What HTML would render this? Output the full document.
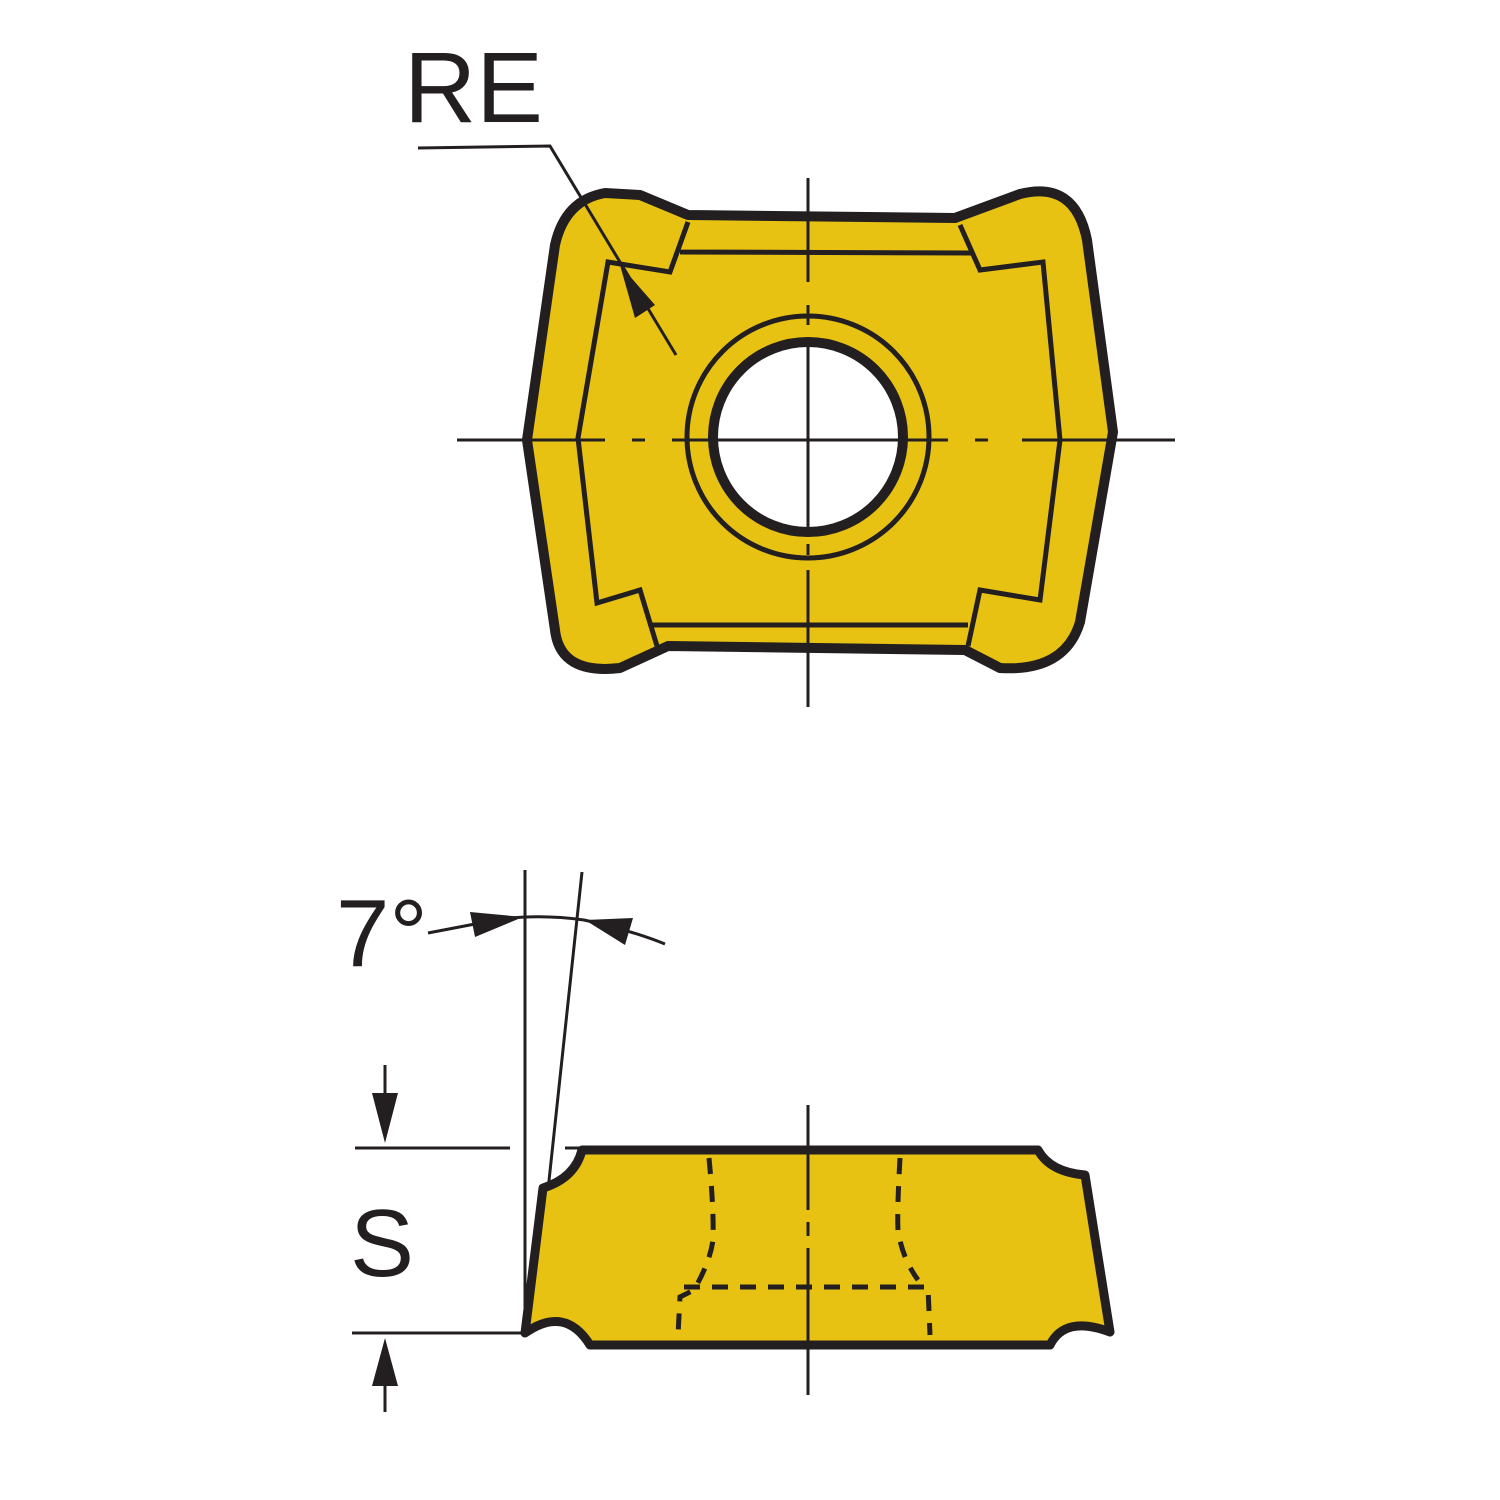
<!DOCTYPE html>
<html><head><style>html,body{margin:0;padding:0;background:#fff}svg{display:block}</style></head><body>
<svg width="1500" height="1500" viewBox="0 0 1500 1500" xmlns="http://www.w3.org/2000/svg">
<g font-family="Liberation Sans, sans-serif" fill="#231f20">
<text x="404" y="122" font-size="100">RE</text>
<text x="336" y="966" font-size="96">7°</text>
<text x="350" y="1276" font-size="96">S</text>
</g>
<path d="M527,440 L555,245 Q565,200 605,193 L640,195 L688,215 L955,218 L1020,194 Q1075,180 1087,240 L1113,432 L1080,622 Q1065,672 1000,668 L965,650 L668,646 L620,668 Q560,675 555,630 Z" fill="#e8c213" stroke="#231f20" stroke-width="10" stroke-linejoin="round"/>
<path d="M688,222 L670,272 L608,262 L578,438 L597,603 L640,590 L657,646 M650,625 L968,625 M968,646 L980,590 L1040,600 L1060,440 L1043,262 L980,270 L960,225 M680,252 L972,253" fill="none" stroke="#231f20" stroke-width="5"/>
<circle cx="808" cy="437" r="121" fill="none" stroke="#231f20" stroke-width="5"/>
<circle cx="808" cy="437" r="95" fill="#fff" stroke="#231f20" stroke-width="10"/>
<g stroke="#231f20" stroke-width="3">
<line x1="808" y1="178" x2="808" y2="282"/><line x1="808" y1="305" x2="808" y2="325"/><line x1="808" y1="345" x2="808" y2="530"/><line x1="808" y1="544" x2="808" y2="555"/><line x1="808" y1="570" x2="808" y2="707"/>
<line x1="457" y1="440" x2="605" y2="440"/><line x1="632" y1="440" x2="645" y2="440"/><line x1="672" y1="440" x2="948" y2="440"/><line x1="975" y1="440" x2="988" y2="440"/><line x1="1022" y1="440" x2="1175" y2="440"/>
<polyline points="418,148 550,146 676,355" fill="none"/>
</g>
<polygon points="620,265 655,305 635,318" fill="#231f20"/>
<path d="M582,1150 L1038,1150 Q1050,1172 1085,1175 L1110,1332 Q1065,1315 1050,1345 L590,1345 Q565,1305 525,1333 L543,1188 Q575,1178 582,1150 Z" fill="#e8c213" stroke="#231f20" stroke-width="9" stroke-linejoin="round"/>
<g stroke="#231f20" stroke-width="5" fill="none" stroke-dasharray="16,12">
<path d="M709,1158 Q714,1210 713,1240 Q710,1262 694,1290 L680,1297 L678,1335"/>
<path d="M900,1158 Q897,1210 898,1230 Q902,1258 918,1280"/>
<path d="M684,1287 L928,1287 L930,1335"/>
</g>
<g stroke="#231f20" stroke-width="3" fill="none">
<line x1="808" y1="1105" x2="808" y2="1210"/><line x1="808" y1="1222" x2="808" y2="1236"/><line x1="808" y1="1248" x2="808" y2="1395"/>
<line x1="525" y1="870" x2="525" y2="1335"/>
<line x1="582" y1="872" x2="548" y2="1190"/>
<line x1="355" y1="1148" x2="510" y2="1148"/><line x1="565" y1="1148" x2="582" y2="1148"/>
<line x1="352" y1="1333" x2="525" y2="1333"/>
<line x1="385" y1="1065" x2="385" y2="1100"/><line x1="385" y1="1380" x2="385" y2="1412"/>
<path d="M428,933 L475,924 Q525,912 584,920 Q630,930 665,944"/>
</g>
<polygon points="470,912 523,917 475,937" fill="#231f20"/>
<polygon points="585,920 633,918 625,945" fill="#231f20"/>
<polygon points="372,1093 398,1093 385,1143" fill="#231f20"/>
<polygon points="372,1386 398,1386 385,1338" fill="#231f20"/>
</svg>
</body></html>
